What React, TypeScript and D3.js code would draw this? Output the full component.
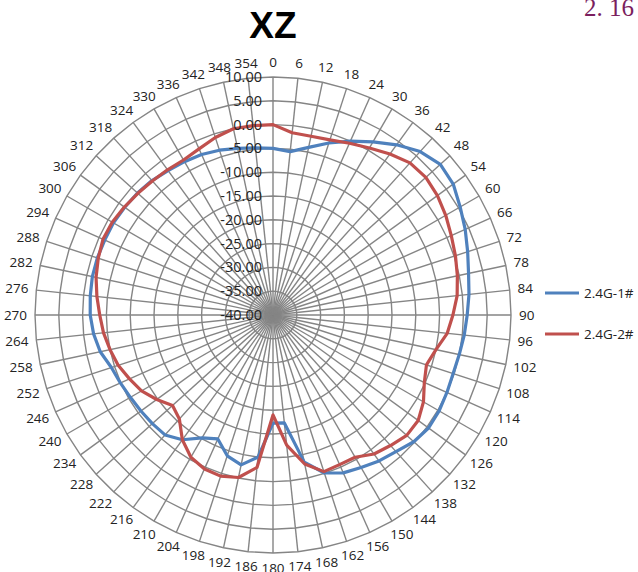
import * as d3 from 'd3';
import React from 'react';

const angles = d3.range(0, 360, 6);
const radialTicks = [-40, -35, -30, -25, -20, -15, -10, -5, 0, 5, 10];
const seriesNames = ['2.4G-1#', '2.4G-2#'];
const seriesColors = ['#4F81BD', '#C0504D'];

// gain in dB per 6 degree step, 0..354
const gain1 = [
  -5.0, -5.5, -4.0, -2.0, 0.0, 2.0, 4.2, 6.2, 7.3, 6.8,
  5.4, 4.2, 3.0, 2.0, 1.4, 0.8, 0.4, 0.0, -0.2, 0.0,
  0.3, 0.4, -0.2, -1.4, -2.1, -3.0, -3.7, -5.1, -8.4, -17.2,
  -17.3, -10.0, -7.8, -8.9, -11.5, -10.2, -7.6, -6.1, -5.9, -5.7,
  -5.4, -4.9, -4.3, -2.9, -2.1, -1.6, -1.4, -1.2, -1.2, -1.3,
  -1.3, -1.5, -1.7, -2.0, -2.5, -2.8, -3.1, -3.6, -4.2, -4.7,
];
const gain2 = [
  0.0, -1.5, -1.6, -1.3, -0.5, 0.5, 1.8, 3.0, 3.2, 2.7,
  1.9, 1.0, 0.3, -0.4, -1.1, -2.2, -3.2, -5.0, -6.1, -5.2,
  -3.5, -2.3, -2.2, -3.1, -3.9, -5.5, -5.6, -5.4, -8.0, -12.5,
  -19.0, -7.8, -5.1, -4.4, -4.6, -5.5, -7.6, -10.6, -11.6, -9.8,
  -8.1, -7.0, -5.8, -5.0, -4.2, -3.6, -2.8, -2.0, -1.4, -0.9,
  -1.0, -1.4, -1.8, -2.1, -2.3, -2.4, -1.8, -0.8, 0.0, 0.0,
];

const W = 638;
const H = 572;
const CX = 273;
const CY = 315;
const R = 238;
const FONT = '"Open Sans", "Noto Sans", sans-serif';

const App: React.FC = () => {
  const r = d3.scaleLinear().domain([-40, 10]).range([0, R]);
  const a = d3.scaleLinear().domain([0, 360]).range([0, 2 * Math.PI]);

  const ring = d3
    .lineRadial<number>()
    .angle(d => a(d))
    .curve(d3.curveLinearClosed);

  const series = d3
    .lineRadial<[number, number]>()
    .angle(d => a(d[0]))
    .radius(d => r(d[1]))
    .curve(d3.curveLinearClosed);

  const data = [gain1, gain2].map(g => angles.map((ang, i) => [ang, g[i]] as [number, number]));

  const labelR = R + 8;

  return (
    <svg width={W} height={H} style={{ position: 'absolute', left: 0, top: 0, background: '#fff' }}>
      <text x={584} y={16} fontFamily='"Liberation Serif", serif' fontSize={25} fill="#7B1F5E">
        2. 16
      </text>
      <text x={CX} y={38} textAnchor="middle" fontFamily='"Liberation Sans", sans-serif' fontWeight="bold" fontSize={37} fill="#000">
        XZ
      </text>
      <g transform={`translate(${CX},${CY})`}>
        {radialTicks.slice(1).map(t => (
          <path key={t} d={ring.radius(() => r(t))(angles) || ''} fill="none" stroke="#858585" strokeWidth={1.4} />
        ))}
        {angles.map(ang => {
          const th = a(ang);
          return (
            <line key={ang} x1={0} y1={0} x2={R * Math.sin(th)} y2={-R * Math.cos(th)} stroke="#858585" strokeWidth={1.4} />
          );
        })}
        {data.map((d, i) => (
          <path key={i} d={series(d) || ''} fill="none" stroke={seriesColors[i]} strokeWidth={3.2} strokeLinejoin="round" />
        ))}
        {radialTicks.map(t => (
          <text key={t} x={-11} y={-r(t)} dy="0.35em" textAnchor="end" fontFamily={FONT} fontSize={14.5} fill="#222">
            {t.toFixed(2)}
          </text>
        ))}
        {angles.map(ang => {
          const th = a(ang);
          const s = Math.sin(th);
          const c = Math.cos(th);
          const label = String(ang);
          const w = label.length * 7.7;
          const h = 14;
          const x = labelR * s + s * (w / 2);
          const y = -labelR * c - c * (h / 2);
          return (
            <text key={ang} x={x} y={y} dy="0.35em" textAnchor="middle" fontFamily={FONT} fontSize={13.5} fill="#222">
              {label}
            </text>
          );
        })}
      </g>
      {seriesNames.map((n, i) => (
        <g key={n} transform={`translate(545,${293 + i * 41})`}>
          <line x1={0} x2={34} y1={0} y2={0} stroke={seriesColors[i]} strokeWidth={3.2} />
          <text x={39} y={0} dy="0.35em" fontFamily={FONT} fontSize={13.5} fill="#222">
            {n}
          </text>
        </g>
      ))}
    </svg>
  );
};

export default App;
